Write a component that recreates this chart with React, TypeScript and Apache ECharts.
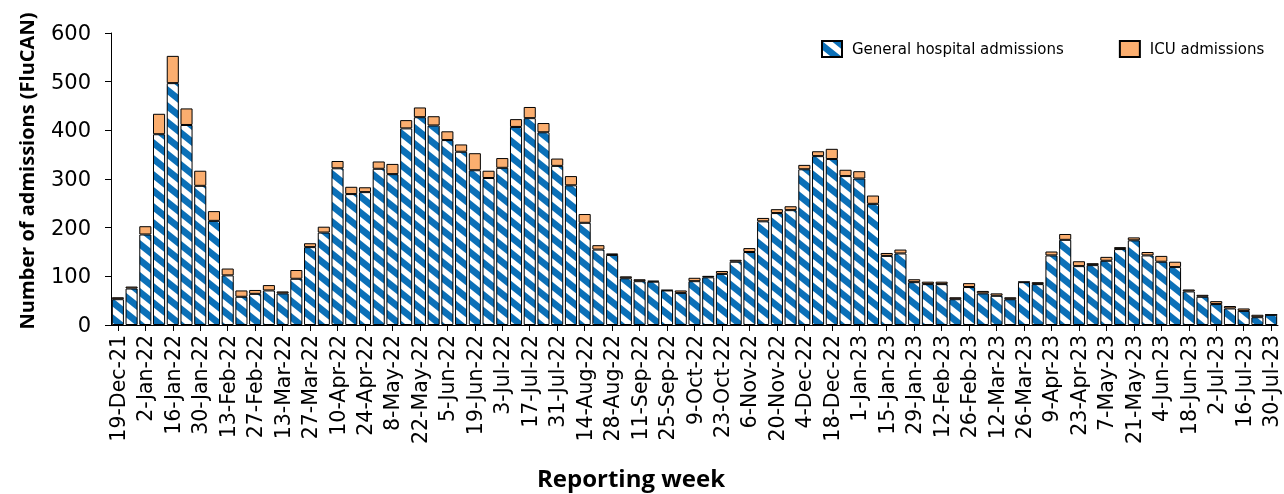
import { useEffect, useRef } from "react";
import * as echarts from "echarts";

const weeks = [
  "19-Dec-21", "26-Dec-21",
  "2-Jan-22", "9-Jan-22", "16-Jan-22", "23-Jan-22", "30-Jan-22", "6-Feb-22", "13-Feb-22", "20-Feb-22", "27-Feb-22",
  "6-Mar-22", "13-Mar-22", "20-Mar-22", "27-Mar-22", "3-Apr-22", "10-Apr-22", "17-Apr-22", "24-Apr-22", "1-May-22",
  "8-May-22", "15-May-22", "22-May-22", "29-May-22", "5-Jun-22", "12-Jun-22", "19-Jun-22", "26-Jun-22", "3-Jul-22",
  "10-Jul-22", "17-Jul-22", "24-Jul-22", "31-Jul-22", "7-Aug-22", "14-Aug-22", "21-Aug-22", "28-Aug-22", "4-Sep-22",
  "11-Sep-22", "18-Sep-22", "25-Sep-22", "2-Oct-22", "9-Oct-22", "16-Oct-22", "23-Oct-22", "30-Oct-22", "6-Nov-22",
  "13-Nov-22", "20-Nov-22", "27-Nov-22", "4-Dec-22", "11-Dec-22", "18-Dec-22", "25-Dec-22",
  "1-Jan-23", "8-Jan-23", "15-Jan-23", "22-Jan-23", "29-Jan-23", "5-Feb-23", "12-Feb-23", "19-Feb-23", "26-Feb-23",
  "5-Mar-23", "12-Mar-23", "19-Mar-23", "26-Mar-23", "2-Apr-23", "9-Apr-23", "16-Apr-23", "23-Apr-23", "30-Apr-23",
  "7-May-23", "14-May-23", "21-May-23", "28-May-23", "4-Jun-23", "11-Jun-23", "18-Jun-23", "25-Jun-23", "2-Jul-23",
  "9-Jul-23", "16-Jul-23", "23-Jul-23", "30-Jul-23",
];

const generalAdmissions = [
  53, 75, 186, 392, 497, 411, 286, 214, 102, 58, 64, 71, 65, 95, 160, 190, 322, 269, 273, 321,
  310, 404, 427, 410, 380, 356, 318, 302, 323, 407, 425, 396, 327, 287, 210, 155, 144, 96, 90, 89,
  71, 66, 90, 98, 105, 130, 150, 213, 230, 236, 320, 347, 341, 306, 301, 249, 142, 147, 88, 84,
  84, 53, 78, 65, 60, 53, 88, 84, 143, 175, 121, 123, 132, 156, 174, 143, 130, 119, 69, 58,
  43, 34, 29, 16, 21,
];

const icuAdmissions = [
  4, 4, 17, 42, 56, 34, 31, 20, 14, 13, 8, 11, 4, 18, 8, 12, 15, 15, 10, 15,
  21, 17, 20, 19, 18, 15, 35, 15, 20, 16, 23, 19, 15, 19, 18, 9, 3, 4, 4, 2,
  1, 5, 7, 3, 6, 4, 8, 7, 8, 8, 9, 10, 21, 13, 15, 17, 6, 8, 6, 5,
  5, 4, 8, 5, 5, 4, 1, 4, 8, 12, 10, 4, 8, 4, 6, 7, 12, 11, 4, 4,
  6, 5, 5, 5, 0,
];

const seriesNames = ["General hospital admissions", "ICU admissions"];
const yAxisTitle = "Number of admissions (FluCAN)";
const xAxisTitle = "Reporting week";
const yMin = 0;
const yMax = 600;
const yInterval = 100;

const BLUE = "#0B70B8";
const ORANGE = "#FBAE6F";

function makeStripe(): HTMLCanvasElement {
  const W = 20;
  const H = 16;
  const B = 8.5;
  const c = document.createElement("canvas");
  c.width = W;
  c.height = H;
  const ctx = c.getContext("2d")!;
  ctx.fillStyle = "#ffffff";
  ctx.fillRect(0, 0, W, H);
  ctx.fillStyle = BLUE;
  for (let k = -2; k <= 1; k++) {
    ctx.beginPath();
    ctx.moveTo(0, k * H);
    ctx.lineTo(W, k * H + H);
    ctx.lineTo(W, k * H + H + B);
    ctx.lineTo(0, k * H + B);
    ctx.closePath();
    ctx.fill();
  }
  return c;
}

export default function App() {
  const ref = useRef<HTMLDivElement>(null);

  useEffect(() => {
    if (!ref.current) return;
    const chart = echarts.init(ref.current, undefined, { renderer: "svg" });
    const stripe = makeStripe();
    const pattern: any = { image: stripe, repeat: "repeat", imageWidth: 20, imageHeight: 16 };

    const titleFamily = '"Open Sans"';
    const tickFont = '"DejaVu Sans"';

    chart.setOption({
      animation: false,
      grid: { left: 111, right: 6, top: 33, bottom: 169, containLabel: false },
      legend: {
        left: 816,
        top: 35,
        itemWidth: 20,
        itemHeight: 16,
        itemGap: 55,
        icon: "rect",
        data: seriesNames,
        textStyle: {
          fontFamily: tickFont,
          fontSize: 15,
          color: "#000",
          padding: [0, 0, 0, 5],
        },
      },
      xAxis: {
        type: "category",
        data: weeks,
        axisLine: { show: true, lineStyle: { color: "#000", width: 1 } },
        axisTick: {
          show: true,
          interval: 1,
          alignWithLabel: true,
          length: 6,
          lineStyle: { color: "#000" },
        },
        axisLabel: {
          interval: 1,
          rotate: 90,
          margin: 10,
          fontFamily: tickFont,
          fontSize: 20.5,
          color: "#000",
        },
        splitLine: { show: false },
      },
      yAxis: {
        type: "value",
        min: yMin,
        max: yMax,
        interval: yInterval,
        axisLine: { show: true, lineStyle: { color: "#000", width: 1 } },
        axisTick: { show: true, length: 6, lineStyle: { color: "#000" } },
        axisLabel: {
          margin: 20,
          fontFamily: tickFont,
          fontSize: 21,
          color: "#000",
        },
        splitLine: { show: false },
      },
      series: [
        {
          name: seriesNames[0],
          type: "bar",
          stack: "total",
          data: generalAdmissions,
          barCategoryGap: "12%",
          itemStyle: { color: pattern, borderColor: "#000", borderWidth: 1 },
        },
        {
          name: seriesNames[1],
          type: "bar",
          stack: "total",
          data: icuAdmissions,
          barCategoryGap: "12%",
          itemStyle: { color: ORANGE, borderColor: "#000", borderWidth: 1 },
        },
      ],
      graphic: [
        {
          type: "text",
          x: 26,
          y: 171,
          rotation: Math.PI / 2,
          style: {
            text: yAxisTitle,
            fontFamily: titleFamily,
            fontWeight: "bold",
            fontSize: 20,
            fill: "#000",
            align: "center",
            verticalAlign: "middle",
          },
        },
        {
          type: "text",
          x: 631,
          y: 477,
          style: {
            text: xAxisTitle,
            fontFamily: titleFamily,
            fontWeight: "bold",
            fontSize: 24,
            fill: "#000",
            align: "center",
            verticalAlign: "middle",
          },
        },
      ],
    });

    return () => {
      chart.dispose();
    };
  }, []);

  return (
    <div
      ref={ref}
      style={{ position: "fixed", left: 0, top: 0, width: 1284, height: 494 }}
    />
  );
}
